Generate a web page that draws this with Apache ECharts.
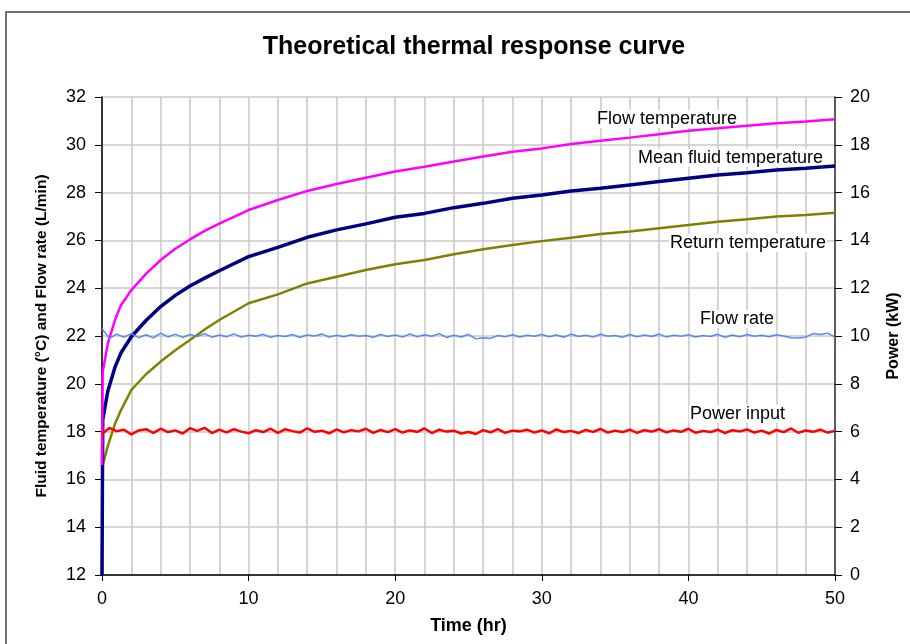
<!DOCTYPE html>
<html>
<head>
<meta charset="utf-8">
<script src="https://cdn.jsdelivr.net/npm/echarts@6/dist/echarts.min.js"></script>
<style>
html,body{margin:0;padding:0;background:#fff;}
#chart{width:910px;height:644px;}
</style>
</head>
<body>
<div id="chart"></div>
<script>
// Time (hr) for temperature curves
const hours = [0,0.05,0.4,0.9,1.3,2,3,4,5,6,7,8,10,12,14,16,18,20,22,24,26,28,30,32,34,36,38,40,42,44,46,48,50];
const flowTemp = [16.6,20.5,21.7,22.7,23.3,23.92,24.6,25.18,25.65,26.04,26.4,26.7,27.27,27.69,28.07,28.36,28.62,28.88,29.08,29.3,29.51,29.71,29.85,30.03,30.17,30.3,30.44,30.59,30.69,30.8,30.9,30.97,31.07];
const meanTemp = [12,18.5,19.7,20.72,21.3,21.97,22.65,23.23,23.7,24.09,24.42,24.73,25.32,25.71,26.13,26.44,26.69,26.97,27.13,27.37,27.55,27.76,27.9,28.07,28.18,28.32,28.46,28.6,28.74,28.83,28.95,29.02,29.11];
const returnTemp = [12,16.6,17.4,18.35,18.9,19.74,20.4,20.93,21.4,21.83,22.27,22.67,23.37,23.74,24.2,24.48,24.76,25.0,25.18,25.42,25.63,25.81,25.97,26.11,26.27,26.37,26.51,26.64,26.78,26.88,27.0,27.06,27.16];

// Sampled every 0.5 hr from 0 to 50
const sampleStep = 0.5;
const flowRate = [
22.30,21.90,22.08,21.95,22.10,21.93,22.05,21.92,22.12,21.96,
22.08,21.94,22.06,21.98,22.10,21.95,22.04,21.97,22.09,21.96,
22.03,21.99,22.07,21.95,22.02,21.98,22.06,21.94,22.04,22.00,
22.08,21.96,22.03,21.97,22.05,21.99,22.02,21.95,22.06,21.98,
22.04,21.96,22.09,21.97,22.05,21.99,22.10,21.94,22.03,21.96,
22.07,21.88,21.93,21.90,22.02,21.97,22.05,21.96,22.03,21.99,
22.06,21.97,22.04,21.95,22.08,21.98,22.03,21.96,22.07,21.99,
22.02,21.95,22.06,21.97,22.04,21.98,22.08,21.96,22.03,21.99,
22.05,21.96,22.02,21.98,22.07,21.95,22.04,21.97,22.06,21.99,
22.03,21.97,22.05,22.00,21.93,21.92,21.95,22.10,22.06,22.12,
21.95];
const powerInput = [
5.90,6.15,6.02,6.08,5.88,6.05,6.10,5.95,6.12,5.98,
6.05,5.92,6.14,6.03,6.16,5.94,6.08,5.97,6.10,6.00,
5.93,6.06,5.98,6.12,5.95,6.10,6.02,5.96,6.14,5.99,
6.04,5.93,6.09,5.97,6.06,6.01,6.12,5.95,6.07,5.98,
6.10,5.96,6.05,5.99,6.13,5.94,6.08,6.00,6.04,5.92,
5.98,5.90,6.06,5.97,6.10,5.95,6.04,6.01,6.08,5.96,
6.05,5.93,6.09,5.98,6.03,5.94,6.07,5.99,6.11,5.96,
6.04,5.98,6.08,5.95,6.06,6.00,6.10,5.97,6.05,5.99,
6.12,5.95,6.03,5.98,6.08,5.94,6.06,6.01,6.09,5.96,
6.04,5.92,6.07,5.98,6.13,5.95,6.05,5.99,6.08,5.96,
6.03];

const leftTicks = [12,32,2];
const rightTicks = [0,20,2];
const xTicks = [0,50,10];

const pair = (xs, ys) => ys.map((v, i) => [xs[i], v]);
const sampled = ys => ys.map((v, i) => [i * sampleStep, v]);

const FONT = '"Liberation Sans", Arial, sans-serif';
const labelStyle = txt => ({text: txt, font: '18px ' + FONT, fill: '#000', backgroundColor: '#fff', padding: [0, 1]});
const chart = echarts.init(document.getElementById('chart'));
chart.setOption({
  backgroundColor: '#ffffff',
  animation: false,
  title: {
    text: 'Theoretical thermal response curve',
    left: 469, top: 30, textAlign: 'center',
    textStyle: {fontFamily: FONT, fontSize: 25, fontWeight: 'bold', color: '#000'}
  },
  grid: {left: 102, right: 73, top: 97, bottom: 69, containLabel: false},
  xAxis: {
    type: 'value', min: xTicks[0], max: xTicks[1], interval: xTicks[2],
    name: 'Time (hr)', nameLocation: 'middle', nameGap: 42,
    nameTextStyle: {fontFamily: FONT, fontSize: 18, fontWeight: 'bold', color: '#000'},
    axisLine: {show: true, onZero: false, lineStyle: {color: '#000', width: 1.5}},
    axisTick: {show: true, length: 6, lineStyle: {color: '#000'}},
    axisLabel: {fontFamily: FONT, fontSize: 18, color: '#000', margin: 15},
    splitLine: {show: true, lineStyle: {color: '#c8c8c8', width: 1.5}},
    minorTick: {show: false, splitNumber: 5},
    minorSplitLine: {show: true, lineStyle: {color: '#c8c8c8', width: 1.5}}
  },
  yAxis: [{
    type: 'value', min: leftTicks[0], max: leftTicks[1], interval: leftTicks[2],
    name: 'Fluid temperature (°C) and Flow rate (L/min)', nameLocation: 'middle', nameGap: 52, nameRotate: 90,
    nameTextStyle: {fontFamily: FONT, fontSize: 15.5, fontWeight: 'bold', color: '#000'},
    axisLine: {show: true, lineStyle: {color: '#000', width: 1.5}},
    axisTick: {show: true, length: 7, lineStyle: {color: '#000'}},
    axisLabel: {fontFamily: FONT, fontSize: 18, color: '#000', margin: 16},
    splitLine: {show: true, lineStyle: {color: '#c8c8c8', width: 1.5}}
  }, {
    type: 'value', min: rightTicks[0], max: rightTicks[1], interval: rightTicks[2],
    name: 'Power (kW)', nameLocation: 'middle', nameGap: 51, nameRotate: 90,
    nameTextStyle: {fontFamily: FONT, fontSize: 16, fontWeight: 'bold', color: '#000'},
    axisLine: {show: true, lineStyle: {color: '#333', width: 1.5}},
    axisTick: {show: true, length: 7, lineStyle: {color: '#000'}},
    axisLabel: {fontFamily: FONT, fontSize: 18, color: '#000', margin: 15},
    splitLine: {show: false}
  }],
  series: [
    {name: 'Return temperature', type: 'line', data: pair(hours, returnTemp), showSymbol: false,
     lineStyle: {color: '#808000', width: 2.5}, z: 3},
    {name: 'Mean fluid temperature', type: 'line', data: pair(hours, meanTemp), showSymbol: false,
     lineStyle: {color: '#000080', width: 3.5}, z: 3},
    {name: 'Flow temperature', type: 'line', data: pair(hours, flowTemp), showSymbol: false,
     lineStyle: {color: '#ff00ff', width: 2.5}, z: 3},
    {name: 'Flow rate', type: 'line', data: sampled(flowRate), showSymbol: false,
     lineStyle: {color: '#5b84f5', width: 1.5}, z: 4},
    {name: 'Power input', type: 'line', yAxisIndex: 1, data: sampled(powerInput), showSymbol: false,
     lineStyle: {color: '#ff0000', width: 2.5}, z: 4}
  ],
  graphic: [
    {type: 'rect', shape: {x: 6, y: 12, width: 1000, height: 1000}, silent: true,
     style: {fill: 'none', stroke: '#444', lineWidth: 1.5}, z: -10},
    {type: 'text', left: 596, top: 110, z: 1, style: labelStyle('Flow temperature')},
    {type: 'text', left: 637, top: 149, z: 1, style: labelStyle('Mean fluid temperature')},
    {type: 'text', left: 669, top: 234, z: 1, style: labelStyle('Return temperature')},
    {type: 'text', left: 699, top: 310, z: 1, style: labelStyle('Flow rate')},
    {type: 'text', left: 689, top: 405, z: 1, style: labelStyle('Power input')}
  ]
});
</script>
</body>
</html>
